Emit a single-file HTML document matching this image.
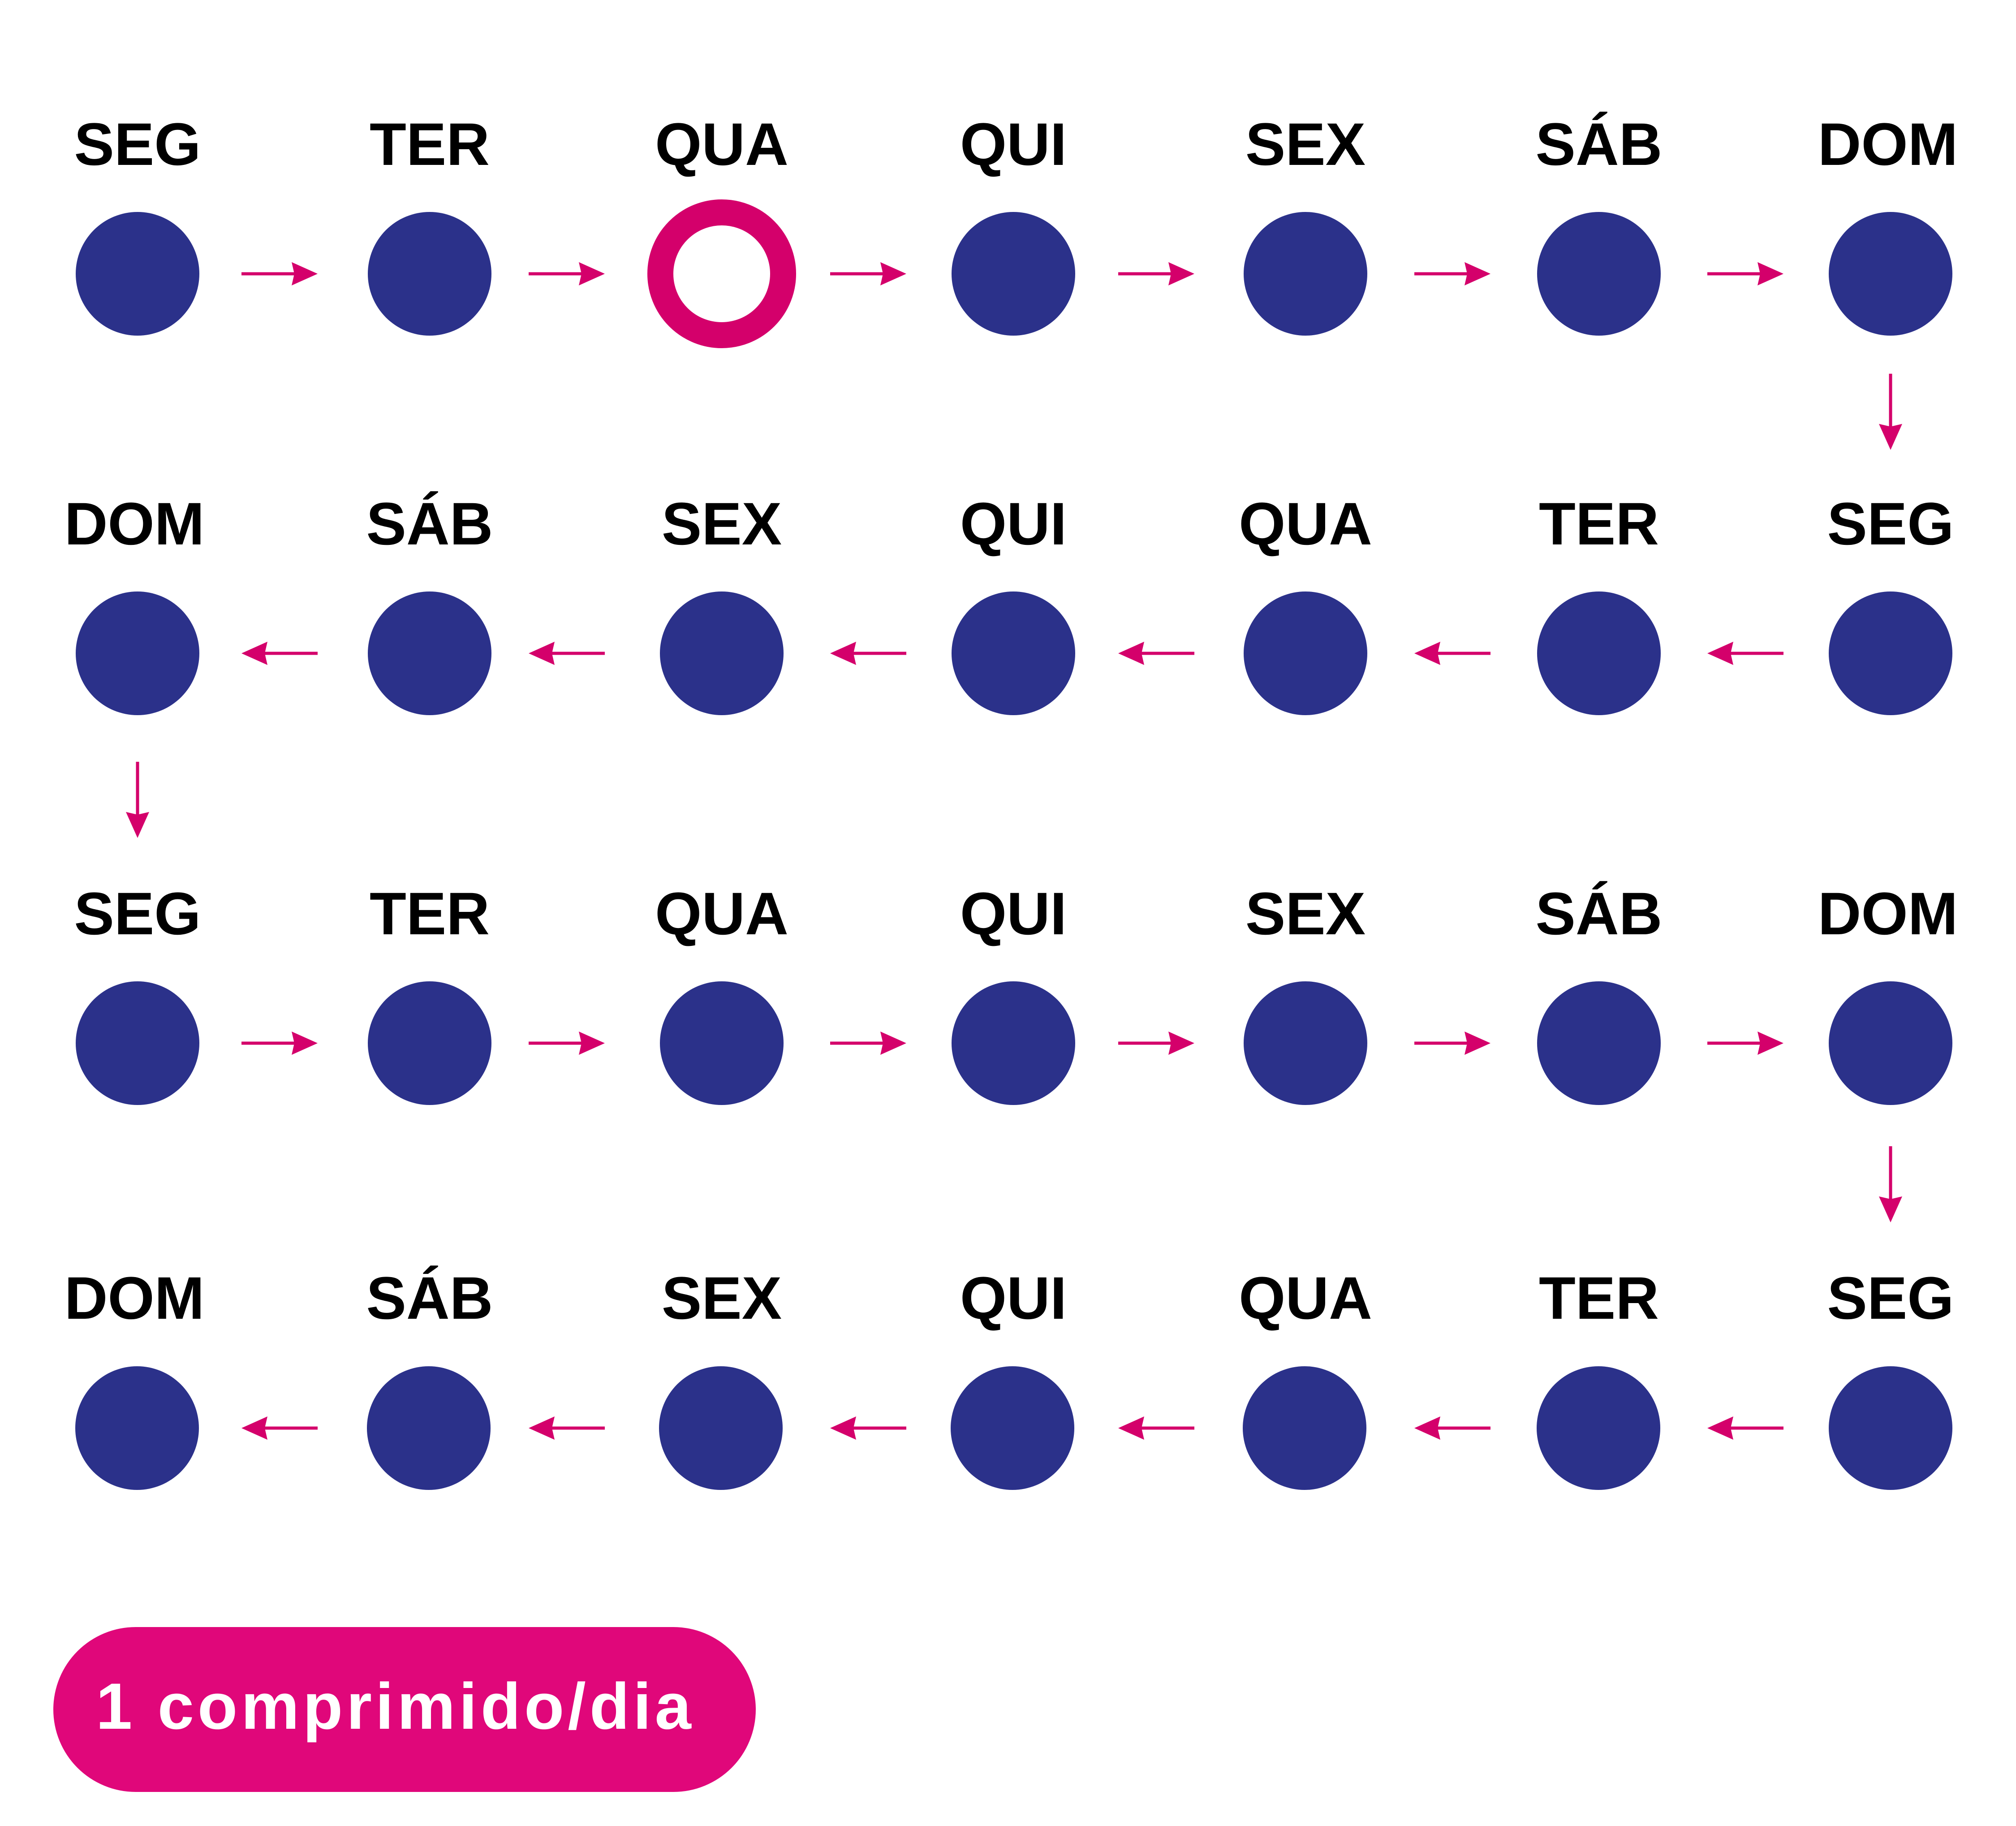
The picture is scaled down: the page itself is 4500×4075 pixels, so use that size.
<!DOCTYPE html>
<html><head><meta charset="utf-8"><style>html,body{margin:0;padding:0;background:#fff}svg{display:block}</style></head>
<body>
<svg width="4500" height="4075" viewBox="0 0 4500 4075" xmlns="http://www.w3.org/2000/svg">
<defs>
<g id="ar"><rect x="0" y="-3.5" width="118" height="7" fill="#D4006B"/><path d="M112 -26 L170 0 L112 26 L118 0 Z" fill="#D4006B"/></g>
</defs>
<g font-family="'Liberation Sans', sans-serif" font-weight="bold" font-size="134" text-anchor="middle" fill="#000">
<text x="307" y="368">SEG</text><text x="959" y="368">TER</text><text x="1611" y="368">QUA</text><text x="2262" y="368">QUI</text><text x="2914" y="368">SEX</text><text x="3569" y="368">SÁB</text><text x="4214" y="368">DOM</text>
<text x="300" y="1215">DOM</text><text x="959" y="1215">SÁB</text><text x="1611" y="1215">SEX</text><text x="2262" y="1215">QUI</text><text x="2914" y="1215">QUA</text><text x="3569" y="1215">TER</text><text x="4220" y="1215">SEG</text>
<text x="307" y="2085">SEG</text><text x="959" y="2085">TER</text><text x="1611" y="2085">QUA</text><text x="2262" y="2085">QUI</text><text x="2914" y="2085">SEX</text><text x="3569" y="2085">SÁB</text><text x="4214" y="2085">DOM</text>
<text x="300" y="2943">DOM</text><text x="959" y="2943">SÁB</text><text x="1611" y="2943">SEX</text><text x="2262" y="2943">QUI</text><text x="2914" y="2943">QUA</text><text x="3569" y="2943">TER</text><text x="4220" y="2943">SEG</text>
</g>
<g fill="#2B318A">
<circle cx="307" cy="611" r="138"/><circle cx="959" cy="611" r="138"/><circle cx="2262" cy="611" r="138"/><circle cx="2914" cy="611" r="138"/><circle cx="3569" cy="611" r="138"/><circle cx="4220" cy="611" r="138"/>
<circle cx="307" cy="1458" r="138"/><circle cx="959" cy="1458" r="138"/><circle cx="1611" cy="1458" r="138"/><circle cx="2262" cy="1458" r="138"/><circle cx="2914" cy="1458" r="138"/><circle cx="3569" cy="1458" r="138"/><circle cx="4220" cy="1458" r="138"/>
<circle cx="307" cy="2328" r="138"/><circle cx="959" cy="2328" r="138"/><circle cx="1611" cy="2328" r="138"/><circle cx="2262" cy="2328" r="138"/><circle cx="2914" cy="2328" r="138"/><circle cx="3569" cy="2328" r="138"/><circle cx="4220" cy="2328" r="138"/>
<circle cx="306" cy="3187" r="138"/><circle cx="957" cy="3187" r="138"/><circle cx="1609" cy="3187" r="138"/><circle cx="2260" cy="3187" r="138"/><circle cx="2912" cy="3187" r="138"/><circle cx="3568" cy="3187" r="138"/><circle cx="4220" cy="3187" r="138"/>
</g>
<circle cx="1611" cy="611" r="137" fill="none" stroke="#D4006B" stroke-width="58"/>
<use href="#ar" transform="translate(539,611)"/><use href="#ar" transform="translate(1180,611)"/><use href="#ar" transform="translate(1853,611)"/><use href="#ar" transform="translate(2496,611)"/><use href="#ar" transform="translate(3157,611)"/><use href="#ar" transform="translate(3811,611)"/>
<use href="#ar" transform="translate(4220,834) rotate(90)"/>
<use href="#ar" transform="translate(709,1458) rotate(180)"/><use href="#ar" transform="translate(1350,1458) rotate(180)"/><use href="#ar" transform="translate(2023,1458) rotate(180)"/><use href="#ar" transform="translate(2666,1458) rotate(180)"/><use href="#ar" transform="translate(3327,1458) rotate(180)"/><use href="#ar" transform="translate(3981,1458) rotate(180)"/>
<use href="#ar" transform="translate(307,1700) rotate(90)"/>
<use href="#ar" transform="translate(539,2328)"/><use href="#ar" transform="translate(1180,2328)"/><use href="#ar" transform="translate(1853,2328)"/><use href="#ar" transform="translate(2496,2328)"/><use href="#ar" transform="translate(3157,2328)"/><use href="#ar" transform="translate(3811,2328)"/>
<use href="#ar" transform="translate(4220,2558) rotate(90)"/>
<use href="#ar" transform="translate(709,3187) rotate(180)"/><use href="#ar" transform="translate(1350,3187) rotate(180)"/><use href="#ar" transform="translate(2023,3187) rotate(180)"/><use href="#ar" transform="translate(2666,3187) rotate(180)"/><use href="#ar" transform="translate(3327,3187) rotate(180)"/><use href="#ar" transform="translate(3981,3187) rotate(180)"/>
<rect x="119" y="3631" width="1568" height="368" rx="184" ry="184" fill="#E0077A"/>
<text x="214" y="3858" font-family="'Liberation Sans', sans-serif" font-weight="bold" font-size="146" letter-spacing="8" fill="#fff">1 comprimido/dia</text>
</svg>
</body></html>
